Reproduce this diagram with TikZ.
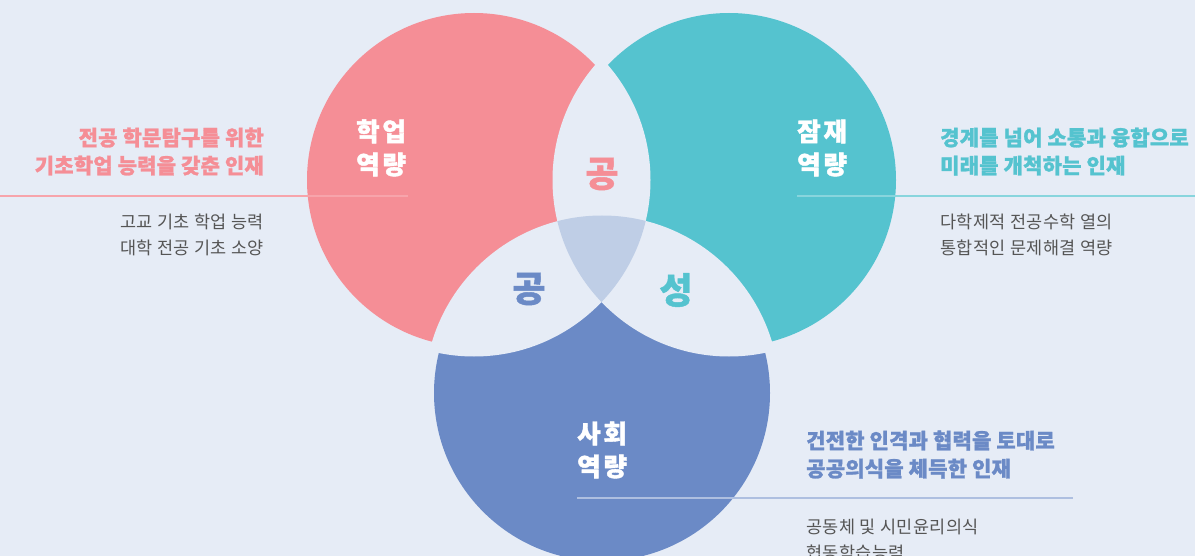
\documentclass[tikz,border=0pt]{standalone}
\usepackage{fontspec}
\setmainfont{Noto Sans CJK KR}[LetterSpace=2.5]
\newfontfamily\heavy{Noto Sans CJK KR}[LetterSpace=1, BoldFeatures={FakeBold=1.2}]
\newfontfamily\lbl{Noto Sans CJK KR}[LetterSpace=11, BoldFeatures={FakeBold=1.5}]
\definecolor{bg}{HTML}{E6ECF6}
\definecolor{pk}{HTML}{F58E96}
\definecolor{tl}{HTML}{55C3CF}
\definecolor{bl}{HTML}{6B8AC6}
\definecolor{tri}{HTML}{BFCEE6}
\definecolor{gr}{HTML}{555555}
\begin{document}
\begin{tikzpicture}[x=1pt,y=-1pt,
  head/.style={font=\heavy\fontsize{21}{25}\selectfont\bfseries, inner sep=0pt},
  sub/.style={font=\fontsize{17.5}{21}\selectfont, text=gr, inner sep=0pt},
  lab/.style={font=\lbl\fontsize{25.5}{30}\selectfont\bfseries, text=white, inner sep=0pt},
  mid/.style={font=\heavy\fontsize{36}{40}\selectfont\bfseries, inner sep=0pt},
  sep/.style={line width=1.5pt}]
\useasboundingbox (0,0) rectangle (1195,556);
\clip (0,0) rectangle (1195,556);
\fill[bg] (0,0) rectangle (1195,556);
\coordinate (P) at (474,180);
\coordinate (T) at (729,180);
\coordinate (B) at (602,393);
% circles
\fill[pk] (P) circle[radius=167pt];
\fill[tl] (T) circle[radius=167pt];
\fill[bl] (B) circle[radius=168pt];
% pairwise overlaps (with gap)
\begin{scope}\clip (P) circle[radius=176.5pt]; \fill[bg] (T) circle[radius=176.5pt];\end{scope}
\begin{scope}\clip (P) circle[radius=176.5pt]; \fill[bg] (B) circle[radius=177.5pt];\end{scope}
\begin{scope}\clip (T) circle[radius=176.5pt]; \fill[bg] (B) circle[radius=177.5pt];\end{scope}
% triple overlap
\begin{scope}\clip (P) circle[radius=176.5pt]; \clip (T) circle[radius=176.5pt]; \fill[tri] (B) circle[radius=177.5pt];\end{scope}
% separator lines
\draw[sep, pk!80!white] (0,196) -- (408,196);
\draw[sep, tl!70!white] (797,196) -- (1195,196);
\draw[sep, bl!55!white] (577,498) -- (1073,498);
% circle labels
\node[lab, anchor=base west] (pl1) at (356,141) {학업};
\node[lab, anchor=base west] (pl2) at (356,174) {역량};
\node[lab, anchor=base west] (tl1) at (797,141) {잠재};
\node[lab, anchor=base west] (tl2) at (797,174) {역량};
\node[lab, anchor=base west] (bl1) at (577,443) {사회};
\node[lab, anchor=base west] (bl2) at (577,476) {역량};
% centre labels
\node[mid, text=pk] (m1) at (602,174) {공};
\node[mid, text=bl] (m2) at (529,289) {공};
\node[mid, text=tl] (m3) at (676,290) {성};
% left texts
\node[head, text=pk, anchor=base east] (lh1) at (264,145.5) {전공 학문탐구를 위한};
\node[head, text=pk, anchor=base east] (lh2) at (264,173.5) {기초학업 능력을 갖춘 인재};
\node[sub, anchor=base east] (ls1) at (264,229) {고교 기초 학업 능력};
\node[sub, anchor=base east] (ls2) at (264,255) {대학 전공 기초 소양};
% right texts
\node[head, text=tl, anchor=base west] (rh1) at (940,145.5) {경계를 넘어 소통과 융합으로};
\node[head, text=tl, anchor=base west] (rh2) at (940,173.5) {미래를 개척하는 인재};
\node[sub, anchor=base west] (rs1) at (940,229) {다학제적 전공수학 열의};
\node[sub, anchor=base west] (rs2) at (940,255) {통합적인 문제해결 역량};
% bottom texts
\node[head, text=bl, anchor=base west] (bh1) at (806,448.5) {건전한 인격과 협력을 토대로};
\node[head, text=bl, anchor=base west] (bh2) at (806,476.5) {공공의식을 체득한 인재};
\node[sub, anchor=base west] (bs1) at (806,533) {공동체 및 시민윤리의식};
\node[sub, anchor=base west] (bs2) at (806,559) {협동학습능력};
\end{tikzpicture}
\end{document}
